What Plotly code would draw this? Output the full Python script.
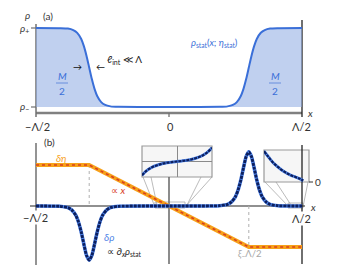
import plotly.graph_objects as go

W, H = 339, 276

# ---------------- data ----------------
# panel (a): stationary density profile rho_stat(x) (rho_- = 0, rho_+ = 1)
x_rho = [-0.5, -0.41, -0.38, -0.36, -0.345, -0.33, -0.32, -0.31, -0.30, -0.29, -0.28,
         -0.27, -0.255, -0.24, -0.22, -0.19, 0.0,
         0.19, 0.22, 0.24, 0.255, 0.27, 0.28, 0.29, 0.30, 0.31, 0.32, 0.33, 0.345,
         0.36, 0.38, 0.41, 0.5]
rho_stat = [1.0, 0.998, 0.993, 0.974, 0.939, 0.861, 0.771, 0.647, 0.5, 0.353, 0.230,
            0.140, 0.062, 0.026, 0.008, 0.002, 0.0,
            0.002, 0.008, 0.026, 0.062, 0.140, 0.230, 0.353, 0.5, 0.647, 0.771, 0.861, 0.939,
            0.974, 0.993, 0.998, 1.0]

# panel (b): delta eta (piecewise linear, "∝ x" in the middle)
x_eta = [-0.5, -0.3, 0.3, 0.5]
d_eta = [1.0, 1.0, -1.0, -1.0]

# panel (b): delta rho ∝ d/dx rho_stat
x_drho = [-0.5, -0.41, -0.38, -0.365, -0.35, -0.34, -0.33, -0.32, -0.31, -0.30,
          -0.29, -0.28, -0.27, -0.26, -0.25, -0.235, -0.22, -0.19, 0.0,
          0.19, 0.22, 0.235, 0.25, 0.26, 0.27, 0.28, 0.29, 0.30,
          0.31, 0.32, 0.33, 0.34, 0.35, 0.365, 0.38, 0.41, 0.5]
d_rho = [0.0, -0.007, -0.040, -0.100, -0.231, -0.395, -0.634, -0.933, -1.206, -1.32,
         -1.206, -0.933, -0.634, -0.395, -0.231, -0.100, -0.040, -0.007, 0.0,
         0.007, 0.040, 0.100, 0.231, 0.395, 0.634, 0.933, 1.206, 1.32,
         1.206, 0.933, 0.634, 0.395, 0.231, 0.100, 0.040, 0.007, 0.0]

# inset around x = 0 (normalised tail values)
x_in1 = [-0.056, -0.048, -0.040, -0.032, -0.024, -0.016, -0.008, 0.0,
         0.008, 0.016, 0.024, 0.032, 0.040, 0.048, 0.056]
y_in1 = [-0.95, -0.62, -0.40, -0.26, -0.16, -0.09, -0.04, 0.0,
         0.04, 0.09, 0.16, 0.26, 0.40, 0.62, 0.95]

# inset near x = Λ/2 (normalised tail values)
x_in2 = [0.4565, 0.4615, 0.4665, 0.4715, 0.4765, 0.4815, 0.4865, 0.4915, 0.4965, 0.5]
y_in2 = [0.96, 0.78, 0.61, 0.48, 0.37, 0.28, 0.21, 0.155, 0.10, 0.04]

# ---------------- colours ----------------
BLUE = "#3a6fd8"
FILL = "rgba(140,170,225,0.55)"
NAVY = "#0c1f5e"
LBLUE = "#4d82e6"
ORANGE = "#f7a11a"
RED = "#d8401f"
GREY = "#777777"

# pixel helpers for layout placement
X0, XS = 36.0, 266.0           # x data -0.5 -> 36 px, 266 px per unit
def xd(px):
    return -0.5 + (px - X0) / XS
def ya(py):                     # panel (a) value units: rho_- at 107 px, rho_+ at 28 px
    return (107.0 - py) / 79.0
def yb(py):                     # panel (b) value units: 0 at 206 px, 41 px per unit
    return (206.0 - py) / 41.0
def pp(px, py):
    return px / W, 1 - py / H

fig = go.Figure()

# panel (a)
fig.add_trace(go.Scatter(x=x_rho, y=rho_stat, mode="lines", fill="tozeroy",
                         fillcolor=FILL, line=dict(color=BLUE, width=2, shape="spline", smoothing=0.6),
                         xaxis="x", yaxis="y", hoverinfo="skip"))

# panel (b)
fig.add_trace(go.Scatter(x=x_eta, y=d_eta, mode="lines", line=dict(color=ORANGE, width=4),
                         xaxis="x", yaxis="y2", hoverinfo="skip"))
fig.add_trace(go.Scatter(x=x_eta, y=d_eta, mode="lines", line=dict(color=RED, width=1.6, dash="dot"),
                         xaxis="x", yaxis="y2", hoverinfo="skip"))
fig.add_trace(go.Scatter(x=x_drho, y=d_rho, mode="lines",
                         line=dict(color=LBLUE, width=3.6, shape="spline", smoothing=0.6),
                         xaxis="x", yaxis="y2", hoverinfo="skip"))
fig.add_trace(go.Scatter(x=x_drho, y=d_rho, mode="lines",
                         line=dict(color=NAVY, width=2.8, dash="3px,1px", shape="spline", smoothing=0.6),
                         xaxis="x", yaxis="y2", hoverinfo="skip"))

# insets
for xx, yy, xa, yax in [(x_in1, y_in1, "x3", "y3"), (x_in2, y_in2, "x4", "y4")]:
    fig.add_trace(go.Scatter(x=xx, y=yy, mode="lines",
                             line=dict(color=LBLUE, width=3, shape="spline"),
                             xaxis=xa, yaxis=yax, hoverinfo="skip"))
    fig.add_trace(go.Scatter(x=xx, y=yy, mode="lines",
                             line=dict(color=NAVY, width=2.2, dash="3px,1px", shape="spline"),
                             xaxis=xa, yaxis=yax, hoverinfo="skip"))

shapes = []
def line_a(x0, y0, x1, y1, color=GREY, width=1.5, dash="solid"):
    shapes.append(dict(type="line", xref="x", yref="y", x0=x0, y0=y0, x1=x1, y1=y1,
                       line=dict(color=color, width=width, dash=dash), layer="below"))
def line_b(x0, y0, x1, y1, color=GREY, width=1.5, dash="solid"):
    shapes.append(dict(type="line", xref="x", yref="y2", x0=x0, y0=y0, x1=x1, y1=y1,
                       line=dict(color=color, width=width, dash=dash), layer="below"))
def line_p(px0, py0, px1, py1, color="#aaaaaa", width=0.8):
    a, b = pp(px0, py0); c, d = pp(px1, py1)
    shapes.append(dict(type="line", xref="paper", yref="paper", x0=a, y0=b, x1=c, y1=d,
                       line=dict(color=color, width=width), layer="below"))

# panel (a) axes
line_a(-0.5, ya(113), 0.5, ya(113), color="#808080", width=2.4)
line_a(-0.5, ya(24), -0.5, ya(117), color="#707070", width=1.5)
line_a(0.5, ya(20), 0.5, ya(117), color="#222222", width=1.3)
line_a(0.0, ya(113), 0.0, ya(117), color="#707070", width=1.3)
line_a(xd(31), 1.0, -0.5, 1.0, color="#707070", width=1.2)
line_a(xd(31), 0.0, -0.5, 0.0, color="#707070", width=1.2)
# fraction bars
for cx in (62, 275):
    line_a(xd(cx - 6), ya(83), xd(cx + 6), ya(83), color=BLUE, width=1)

# panel (b) axes
line_b(-0.5, yb(143), -0.5, yb(265), color="#707070", width=1.5)
line_b(xd(30), 0, xd(305), 0, color="#222222", width=1.1)
line_b(0.5, yb(145), 0.5, yb(264), color="#222222", width=1.3)
line_b(0.0, yb(177), 0.0, yb(264), color="#666666", width=1.5)
line_b(-0.3, 1.0, -0.3, 0.0, color="#b0b0b0", width=1, dash="dot")
line_b(0.3, 0.0, 0.3, -1.0, color="#b0b0b0", width=1, dash="dot")

# inset frames and connectors
line_p(143, 177, 155, 207)
line_p(151, 177, 157, 205)
line_p(212, 177, 185, 207)
line_p(201, 177, 187, 205)
shapes.append(dict(type="rect", xref="paper", yref="paper",
                   x0=155 / W, x1=185 / W, y0=1 - 208 / H, y1=1 - 202 / H,
                   line=dict(color="#aaaaaa", width=0.8), layer="below"))
line_p(265, 182, 289, 207)
line_p(276, 182, 291, 205)
line_p(308, 182, 303, 207)
shapes.append(dict(type="rect", xref="paper", yref="paper",
                   x0=288 / W, x1=303 / W, y0=1 - 208 / H, y1=1 - 203 / H,
                   line=dict(color="#aaaaaa", width=0.8), layer="below"))
for (l, t, r, b) in [(142, 146, 212, 177), (264, 150, 309, 182)]:
    shapes.append(dict(type="rect", xref="paper", yref="paper",
                       x0=l / W, x1=r / W, y0=1 - b / H, y1=1 - t / H,
                       fillcolor="#f6f6f6", line=dict(color="#9a9a9a", width=1.2), layer="below"))
line_p(309, 182, 313, 182, color="#333333", width=1)

FONT = "Lato"
ann = []
def text(px, py, s, size=10, color="#333333", xanchor="center", bg=None):
    a, b = pp(px, py)
    d = dict(xref="paper", yref="paper", x=a, y=b, text=s, showarrow=False,
             xanchor=xanchor, yanchor="middle",
             font=dict(family=FONT, size=size, color=color))
    if bg:
        d["bgcolor"] = bg
        d["borderpad"] = 0
    ann.append(d)

# panel (a) texts
text(27, 15, "<i>ρ</i>", 10)
text(48, 16, "(a)", 10)
text(24, 28, "<i>ρ</i><sub>+</sub>", 10)
text(24, 107, "<i>ρ</i><sub>−</sub>", 10)
text(37, 126, "−Λ/2", 11)
text(170, 126, "0", 11)
text(301, 126, "Λ/2", 11)
text(310, 113, "<i>x</i>", 10)
text(215, 43, "<i>ρ</i><sub>stat</sub>(<i>x</i>; <i>η</i><sub>stat</sub>)", 9.5, BLUE)
text(105, 60, "<i>ℓ</i><sub>int</sub> ≪ Λ", 10, "#222222", xanchor="left")
text(77, 67, "→", 9, "#111111")
text(100, 67, "←", 9, "#111111")
for cx in (62, 275):
    text(cx, 76, "<i>M</i>", 10, BLUE)
    text(cx, 91, "2", 10, BLUE)

# panel (b) texts
text(49, 142, "(b)", 10)
text(61, 158, "<i>δη</i>", 10, ORANGE)
text(118, 190, "∝ <i>x</i>", 10, RED)
text(109, 237, "<i>δρ</i>", 10, LBLUE)
text(124, 252, "∝ ∂<sub><i>x</i></sub><i>ρ</i><sub>stat</sub>", 9.5, "#222222")
text(35, 217, "−Λ/2", 11, bg="white")
text(301, 218, "Λ/2", 11, bg="white")
text(313, 207, "<i>x</i>", 10)
text(318, 182, "0", 10)
text(250, 254, "<i>ξ</i><sub>−</sub>Λ/2", 9.5, "#a8a8a8")

inset_ax = dict(showticklabels=False, showgrid=False, showline=False, ticks="",
                zeroline=True, zerolinecolor="#8a8a8a", zerolinewidth=1)

fig.update_layout(
    width=W, height=H, margin=dict(l=0, r=0, t=0, b=0),
    paper_bgcolor="white", plot_bgcolor="rgba(0,0,0,0)", showlegend=False,
    xaxis=dict(range=[xd(0), xd(W)], visible=False, domain=[0, 1]),
    yaxis=dict(range=[ya(H), ya(0)], visible=False, domain=[0, 1]),
    yaxis2=dict(range=[yb(H), yb(0)], visible=False, overlaying="y"),
    xaxis3=dict(domain=[142 / W, 212 / W], range=[-0.056, 0.056], anchor="y3", **inset_ax),
    yaxis3=dict(domain=[1 - 177 / H, 1 - 146 / H], range=[-1.08, 1.08], anchor="x3", **inset_ax),
    xaxis4=dict(domain=[264 / W, 309 / W], range=[0.4565, 0.5065], anchor="y4", visible=False),
    yaxis4=dict(domain=[1 - 182 / H, 1 - 150 / H], range=[0, 1.0], anchor="x4", visible=False),
    shapes=shapes, annotations=ann,
)

fig.write_html("out.html", config={"displayModeBar": False},
               post_script="document.body.style.margin='0';document.body.style.overflow='hidden';")
